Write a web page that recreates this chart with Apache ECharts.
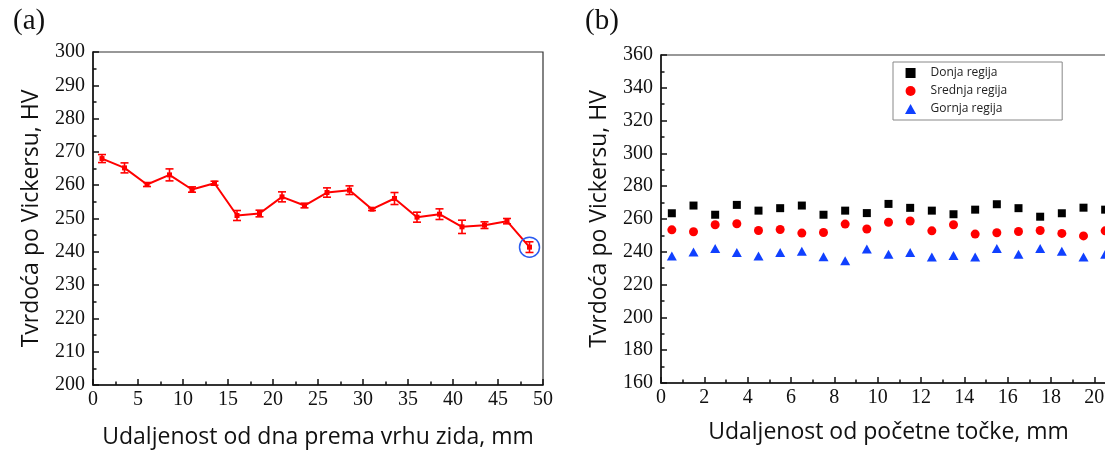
<!DOCTYPE html>
<html>
<head>
<meta charset="utf-8">
<script src="https://cdn.jsdelivr.net/npm/echarts@6/dist/echarts.min.js"></script>
<style>html,body{margin:0;padding:0;background:#fff}#c{width:1105px;height:450px}</style>
</head>
<body>
<div id="c"></div>
<script>
// ---- Panel (a) data ----
const distA = [1, 3.5, 6, 8.5, 11, 13.5, 16, 18.5, 21, 23.5, 26, 28.5, 31, 33.5, 36, 38.5, 41, 43.5, 46, 48.5];
const hvA   = [268.0, 265.2, 260.2, 263.1, 258.7, 260.6, 250.9, 251.5, 256.5, 253.9, 257.8, 258.5, 252.8, 256.0, 250.4, 251.3, 247.5, 248.0, 249.2, 241.4];
const errA  = [1.2, 1.5, 0.6, 1.8, 0.8, 0.6, 1.5, 1.0, 1.5, 0.7, 1.4, 1.3, 0.4, 1.8, 1.5, 1.6, 2.0, 1.0, 0.8, 1.6];
const highlightIndex = 19;

// ---- Panel (b) data ----
const distB = [0.5, 1.5, 2.5, 3.5, 4.5, 5.5, 6.5, 7.5, 8.5, 9.5, 10.5, 11.5, 12.5, 13.5, 14.5, 15.5, 16.5, 17.5, 18.5, 19.5, 20.5];
const donja   = [263.5, 268.2, 262.6, 268.6, 265.1, 266.6, 268.2, 262.6, 265.1, 263.6, 269.2, 266.8, 265.1, 262.9, 265.7, 269.0, 266.6, 261.4, 263.5, 266.9, 265.7];
const srednja = [253.4, 252.2, 256.5, 257.1, 253.0, 253.6, 251.4, 251.8, 256.9, 253.9, 258.0, 258.8, 252.8, 256.5, 250.8, 251.6, 252.4, 253.0, 251.2, 249.7, 252.8];
const gornja  = [237.4, 239.9, 242.0, 239.5, 237.4, 239.5, 240.3, 237.0, 234.6, 241.7, 238.5, 239.5, 236.8, 237.8, 236.8, 242.0, 238.5, 242.0, 240.3, 236.8, 238.5];
const seriesNamesB = ['Donja regija', 'Srednja regija', 'Gornja regija'];

// ---- Axis texts ----
const yNameA = 'Tvrdoća po Vickersu, HV';
const xNameA = 'Udaljenost od dna prema vrhu zida, mm';
const yNameB = 'Tvrdoća po Vickersu, HV';
const xNameB = 'Udaljenost od početne točke, mm';
const panelLabels = ['(a)', '(b)'];

const serif = 'Liberation Serif';
const sans = 'Open Sans';

const chart = echarts.init(document.getElementById('c'));

function labelStyle(margin, hideAbove) {
  const s = {color: '#111', fontSize: 20, fontFamily: serif, margin: margin};
  if (hideAbove != null) s.formatter = function (v) { return v > hideAbove ? '' : String(v); };
  return s;
}

function axisCommon(extra) {
  return Object.assign({
    axisLine: {show: true, onZero: false, lineStyle: {color: '#111', width: 1.5}},
    axisTick: {show: true, inside: true, length: 6, lineStyle: {color: '#111', width: 1.5}},
    minorTick: {show: true, splitNumber: 2, length: 3.5, lineStyle: {color: '#111', width: 1.5}},
    splitLine: {show: false},
    nameTextStyle: {color: '#111', fontFamily: sans, fontSize: 23}
  }, extra);
}

const errData = distA.map((x, i) => [x, hvA[i] - errA[i], hvA[i] + errA[i]]);

const option = {
  animation: false,
  backgroundColor: '#fff',
  title: [
    {text: panelLabels[0], left: 8, top: 2, textStyle: {fontFamily: serif, fontSize: 29, fontWeight: 'normal', color: '#111'}},
    {text: panelLabels[1], left: 580, top: 2, textStyle: {fontFamily: serif, fontSize: 29, fontWeight: 'normal', color: '#111'}}
  ],
  grid: [
    {left: 93, top: 52, width: 450, height: 333, show: true, borderColor: '#333', borderWidth: 1.2, backgroundColor: 'transparent', outerBoundsMode: 'none', containLabel: false},
    {left: 661, top: 55, width: 455, height: 328, show: true, borderColor: '#333', borderWidth: 1.2, backgroundColor: 'transparent', outerBoundsMode: 'none', containLabel: false}
  ],
  legend: {
    data: [
      {name: seriesNamesB[0], icon: 'path://M0,0H10V10H0Z'},
      {name: seriesNamesB[1], icon: 'path://M5,0A5,5 0 1,1 5,10A5,5 0 1,1 5,0Z'},
      {name: seriesNamesB[2], icon: 'path://M5,0L10,9L0,9Z'}
    ],
    orient: 'vertical',
    left: 893, top: 62,
    itemWidth: 30, itemHeight: 10, itemGap: 6,
    symbolKeepAspect: true,
    padding: [5, 55, 5, 12],
    borderColor: '#888', borderWidth: 1,
    textStyle: {fontFamily: sans, fontSize: 12, color: '#222'}
  },
  xAxis: [
    axisCommon({gridIndex: 0, type: 'value', min: 0, max: 50, interval: 5, name: xNameA, nameLocation: 'middle', nameGap: 41,
      axisLabel: labelStyle(5)}),
    axisCommon({gridIndex: 1, type: 'value', min: 0, max: 21, interval: 2, name: xNameB, nameLocation: 'middle', nameGap: 38,
      axisLabel: labelStyle(5, 20)})
  ],
  yAxis: [
    axisCommon({gridIndex: 0, type: 'value', min: 200, max: 300, interval: 10, name: yNameA, nameLocation: 'middle', nameGap: 50,
      axisLabel: labelStyle(8)}),
    axisCommon({gridIndex: 1, type: 'value', min: 160, max: 360, interval: 20, name: yNameB, nameLocation: 'middle', nameGap: 50,
      axisLabel: labelStyle(8)})
  ],
  series: [
    {
      type: 'line', xAxisIndex: 0, yAxisIndex: 0,
      data: distA.map((x, i) => [x, hvA[i]]),
      symbol: 'rect', symbolSize: 5,
      itemStyle: {color: '#ff0000', opacity: 1},
      lineStyle: {color: '#ff0000', width: 2},
      z: 3
    },
    {
      type: 'custom', xAxisIndex: 0, yAxisIndex: 0,
      data: errData,
      renderItem: function (params, api) {
        const x = api.value(0);
        const lo = api.coord([x, api.value(1)]);
        const hi = api.coord([x, api.value(2)]);
        const w = 4;
        const style = {stroke: '#ff0000', lineWidth: 1.6, fill: null};
        return {type: 'group', children: [
          {type: 'line', shape: {x1: lo[0], y1: lo[1], x2: hi[0], y2: hi[1]}, style: style},
          {type: 'line', shape: {x1: lo[0] - w, y1: lo[1], x2: lo[0] + w, y2: lo[1]}, style: style},
          {type: 'line', shape: {x1: hi[0] - w, y1: hi[1], x2: hi[0] + w, y2: hi[1]}, style: style}
        ]};
      },
      z: 4
    },
    {
      type: 'scatter', xAxisIndex: 0, yAxisIndex: 0,
      data: [[distA[highlightIndex], hvA[highlightIndex]]],
      symbol: 'circle', symbolSize: 20,
      itemStyle: {color: 'rgba(0,0,0,0)', borderColor: '#2a5bf0', borderWidth: 1.5, opacity: 1},
      silent: true, z: 5
    },
    {
      name: seriesNamesB[0], type: 'scatter', xAxisIndex: 1, yAxisIndex: 1,
      data: distB.map((x, i) => [x, donja[i]]),
      symbol: 'rect', symbolSize: 8,
      itemStyle: {color: '#000000', opacity: 1}
    },
    {
      name: seriesNamesB[1], type: 'scatter', xAxisIndex: 1, yAxisIndex: 1,
      data: distB.map((x, i) => [x, srednja[i]]),
      symbol: 'circle', symbolSize: 9,
      itemStyle: {color: '#ff0000', opacity: 1}
    },
    {
      name: seriesNamesB[2], type: 'scatter', xAxisIndex: 1, yAxisIndex: 1,
      data: distB.map((x, i) => [x, gornja[i]]),
      symbol: 'triangle', symbolSize: [10, 9],
      itemStyle: {color: '#1040ff', opacity: 1}
    }
  ]
};
chart.setOption(option);
</script>
</body>
</html>
